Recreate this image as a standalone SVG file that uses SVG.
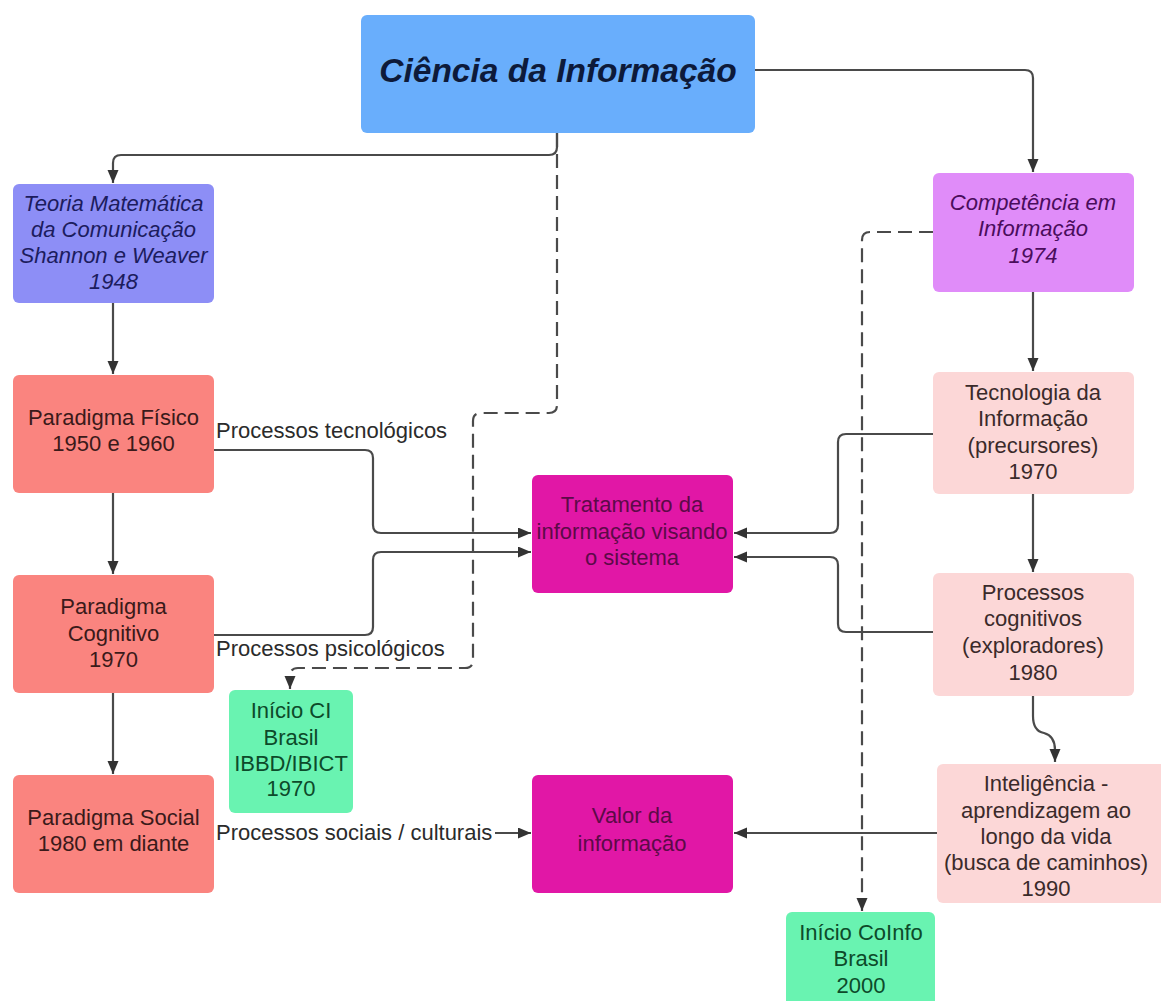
<svg xmlns="http://www.w3.org/2000/svg" width="1161" height="1001" viewBox="0 0 1161 1001">
<defs>
<marker id="arr" markerUnits="userSpaceOnUse" markerWidth="15" markerHeight="12" refX="13" refY="5.5" orient="auto">
<path d="M0,0 L13,5.5 L0,11 z" fill="#333"/>
</marker>
<style>
text{font-family:"Liberation Sans",Arial,sans-serif;font-size:22px;text-anchor:middle}
.t{font-size:33.5px;font-weight:bold;font-style:italic;fill:#0d1a3a}
.it{font-style:italic}
.lbl{text-anchor:start;fill:#2b2b2b;font-size:22px}
.c{fill:none;stroke:#4a4a4a;stroke-width:2.2}
.d{fill:none;stroke:#4a4a4a;stroke-width:2.2;stroke-dasharray:14 7}
</style>
</defs>
<rect width="1161" height="1001" fill="#ffffff"/>

<g id="connectors">
<path class="c" d="M557,133 V147 Q557,155 549,155 H121 Q113,155 113,163 V183" marker-end="url(#arr)"/>
<path class="c" d="M755,70 H1025 Q1033,70 1033,78 V172" marker-end="url(#arr)"/>
<path class="c" d="M113,303 V374" marker-end="url(#arr)"/>
<path class="c" d="M113,493 V574" marker-end="url(#arr)"/>
<path class="c" d="M113,693 V774" marker-end="url(#arr)"/>
<path class="c" d="M214,450 H365 Q373,450 373,458 V525 Q373,533 381,533 H531" marker-end="url(#arr)"/>
<path class="c" d="M214,635 H365 Q373,635 373,627 V560 Q373,552 381,552 H531" marker-end="url(#arr)"/>
<path class="c" d="M933,434 H846 Q838,434 838,442 V525 Q838,533 830,533 H734" marker-end="url(#arr)"/>
<path class="c" d="M933,632 H846 Q838,632 838,624 V565 Q838,557 830,557 H734" marker-end="url(#arr)"/>
<path class="c" d="M1033,292 V371" marker-end="url(#arr)"/>
<path class="c" d="M1033,494 V572" marker-end="url(#arr)"/>
<path class="c" d="M1033,696 V716 Q1033,731 1044,733 Q1055,736 1055,750 V762" marker-end="url(#arr)"/>
<path class="c" d="M937,833 H734" marker-end="url(#arr)"/>
<path class="c" d="M495,833 H531" marker-end="url(#arr)"/>
<path class="d" d="M557,133 V405 Q557,413 549,413 H481 Q473,413 473,421 V660 Q473,668 465,668 H298 Q290,668 290,676 V689" marker-end="url(#arr)"/>
<path class="d" d="M933,232 H870 Q862,232 862,240 V911" marker-end="url(#arr)"/>
<text class="lbl" x="216" y="438">Processos tecnológicos</text>
<text class="lbl" x="216" y="656">Processos psicológicos</text>
<text class="lbl" x="216" y="840">Processos sociais / culturais</text>
</g>

<g id="ciencia">
<rect x="361" y="15" width="394" height="118" rx="6" fill="#69aefc"/>
<text class="t" x="558" y="82">Ciência da Informação</text>
</g>

<g id="teoria" fill="#1c1c5e">
<rect x="13" y="184" width="201" height="119" rx="6" fill="#8d8ef6"/>
<text class="it" x="113.5" y="211">Teoria Matemática</text>
<text class="it" x="113.5" y="237">da Comunicação</text>
<text class="it" x="113.5" y="263">Shannon e Weaver</text>
<text class="it" x="113.5" y="289">1948</text>
</g>

<g id="competencia" fill="#4a0d5c">
<rect x="933" y="173" width="201" height="119" rx="6" fill="#e08cf9"/>
<text class="it" x="1033" y="210">Competência em</text>
<text class="it" x="1033" y="236">Informação</text>
<text class="it" x="1033" y="263">1974</text>
</g>

<g id="fisico" fill="#3a1a1a">
<rect x="13" y="375" width="201" height="118" rx="6" fill="#fa847f"/>
<text x="113.5" y="425">Paradigma Físico</text>
<text x="113.5" y="451">1950 e 1960</text>
</g>

<g id="cognitivo" fill="#3a1a1a">
<rect x="13" y="575" width="201" height="118" rx="6" fill="#fa847f"/>
<text x="113.5" y="614">Paradigma</text>
<text x="113.5" y="641">Cognitivo</text>
<text x="113.5" y="667">1970</text>
</g>

<g id="social" fill="#3a1a1a">
<rect x="13" y="775" width="201" height="118" rx="6" fill="#fa847f"/>
<text x="113.5" y="825">Paradigma Social</text>
<text x="113.5" y="851">1980 em diante</text>
</g>

<g id="tecnologia" fill="#3a2a2a">
<rect x="933" y="372" width="201" height="122" rx="6" fill="#fcd7d7"/>
<text x="1033" y="400">Tecnologia da</text>
<text x="1033" y="426">Informação</text>
<text x="1033" y="453">(precursores)</text>
<text x="1033" y="479">1970</text>
</g>

<g id="processos-cognitivos" fill="#3a2a2a">
<rect x="933" y="573" width="201" height="123" rx="6" fill="#fcd7d7"/>
<text x="1033" y="600">Processos</text>
<text x="1033" y="626">cognitivos</text>
<text x="1033" y="653">(exploradores)</text>
<text x="1033" y="680">1980</text>
</g>

<g id="inteligencia" fill="#3a2a2a">
<rect x="937" y="764" width="230" height="139" rx="6" fill="#fcd7d7"/>
<text x="1046" y="791">Inteligência -</text>
<text x="1046" y="818">aprendizagem ao</text>
<text x="1046" y="844">longo da vida</text>
<text x="1046" y="870">(busca de caminhos)</text>
<text x="1046" y="896">1990</text>
</g>

<g id="tratamento" fill="#5c0a48">
<rect x="532" y="475" width="201" height="118" rx="6" fill="#e117a6"/>
<text x="632" y="512">Tratamento da</text>
<text x="632" y="539">informação visando</text>
<text x="632" y="565">o sistema</text>
</g>

<g id="valor" fill="#5c0a48">
<rect x="532" y="775" width="201" height="118" rx="6" fill="#e117a6"/>
<text x="632" y="823">Valor da</text>
<text x="632" y="851">informação</text>
</g>

<g id="inicio-ci" fill="#0d4a2a">
<rect x="229" y="690" width="124" height="123" rx="6" fill="#69f3b1"/>
<text x="291" y="718">Início CI</text>
<text x="291" y="745">Brasil</text>
<text x="291" y="771">IBBD/IBICT</text>
<text x="291" y="796">1970</text>
</g>

<g id="inicio-coinfo" fill="#0d4a2a">
<rect x="786" y="912" width="149" height="100" rx="6" fill="#69f3b1"/>
<text x="861" y="940">Início CoInfo</text>
<text x="861" y="966">Brasil</text>
<text x="861" y="993">2000</text>
</g>
</svg>
